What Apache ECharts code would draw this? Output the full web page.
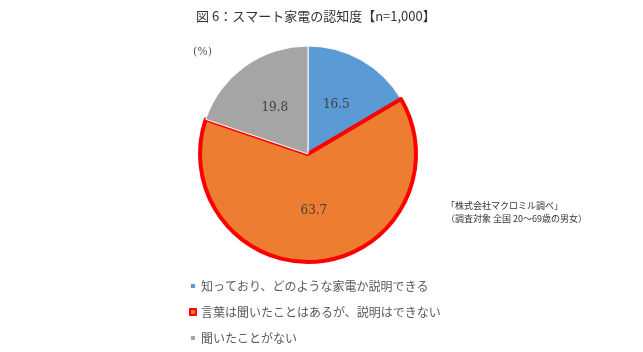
<!DOCTYPE html>
<html>
<head>
<meta charset="utf-8">
<script src="https://cdn.jsdelivr.net/npm/echarts@6/dist/echarts.min.js"></script>
<style>
  html, body { margin: 0; padding: 0; background: #fff; }
  #chart { width: 643px; height: 352px; }
</style>
</head>
<body>
<div id="chart"></div>
<script>
const categories = [
  '知っており、どのような家電か説明できる',
  '言葉は聞いたことはあるが、説明はできない',
  '聞いたことがない'
]
const values = [16.5, 63.7, 19.8]
const colorList = ['#5b9bd5', '#ed7d31', '#a5a5a5']

const chart = echarts.init(document.getElementById('chart'))
chart.setOption({
  animation: false,
  title: {
    text: '図 6：スマート家電の認知度【n=1,000】',
    left: 191,
    top: 5,
    textStyle: {
      fontFamily: 'Noto Sans CJK JP',
      fontSize: 13,
      fontWeight: 'normal',
      color: '#333'
    }
  },
  legend: {
    orient: 'vertical',
    left: 184,
    top: 275,
    icon: 'rect',
    itemWidth: 6,
    itemHeight: 6,
    itemGap: 14,
    textStyle: {
      fontFamily: 'Noto Sans CJK JP',
      fontSize: 12,
      color: '#595959'
    },
    data: categories
  },
  graphic: [
    {
      type: 'text',
      left: 193,
      top: 47,
      style: { text: '(%)', fontFamily: 'DejaVu Serif', fontSize: 11, fill: '#595959' }
    },
    {
      type: 'text',
      left: 446,
      top: 199,
      style: {
        text: '「株式会社マクロミル調べ」\n（調査対象 全国 20～69歳の男女）',
        fontFamily: 'Noto Sans CJK JP',
        fontSize: 9,
        lineHeight: 13,
        fill: '#333'
      }
    }
  ],
  series: [
    {
      type: 'pie',
      center: [308, 154],
      radius: 108,
      startAngle: 90,
      clockwise: true,
      label: {
        position: 'inside',
        formatter: '{c}',
        fontFamily: 'DejaVu Serif',
        fontSize: 12,
        color: '#404040'
      },
      labelLine: { show: false },
      itemStyle: { borderColor: '#fff', borderWidth: 1 },
      data: categories.map((name, i) => ({
        name: name,
        value: values[i],
        itemStyle: i === 1
          ? { color: colorList[i], borderColor: '#ff0000', borderWidth: 4 }
          : { color: colorList[i] }
      }))
    }
  ]
})
</script>
</body>
</html>
